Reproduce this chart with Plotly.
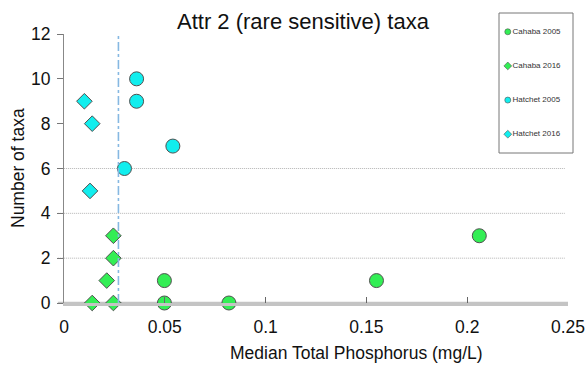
import plotly.graph_objects as go

# Median total phosphorus (mg/L) and number of Attr 2 taxa per site
cahaba_2005_tp = [0.0498, 0.0498, 0.0818, 0.155, 0.206]
cahaba_2005_n = [1, 0, 0, 1, 3]
cahaba_2016_tp = [0.0245, 0.0245, 0.0212, 0.014, 0.0245]
cahaba_2016_n = [3, 2, 1, 0, 0]
hatchet_2005_tp = [0.036, 0.036, 0.054, 0.030]
hatchet_2005_n = [10, 9, 7, 6]
hatchet_2016_tp = [0.0101, 0.014, 0.0129]
hatchet_2016_n = [9, 8, 5]

series_names = ["Cahaba 2005", "Cahaba 2016", "Hatchet 2005", "Hatchet 2016"]
threshold_tp = 0.027
grid_levels = [2, 4, 6]

GREEN = "#33ee55"
CYAN = "#11eeee"
EDGE = "#505050"
FONT = "Liberation Sans, Arial"

series = [
    (cahaba_2005_tp, cahaba_2005_n, "circle", GREEN, 14),
    (cahaba_2016_tp, cahaba_2016_n, "diamond", GREEN, 12),
    (hatchet_2005_tp, hatchet_2005_n, "circle", CYAN, 14),
    (hatchet_2016_tp, hatchet_2016_n, "diamond", CYAN, 12),
]

fig = go.Figure()
for name, (xs, ys, sym, col, sz) in zip(series_names, series):
    fig.add_trace(go.Scatter(
        x=xs, y=ys, mode="markers", name=name, showlegend=False,
        cliponaxis=False,
        marker=dict(symbol=sym, color=col, size=sz,
                    line=dict(color=EDGE, width=1)),
    ))

# Boxed key drawn on its own small axis pair
for i, (name, (xs, ys, sym, col, sz)) in enumerate(zip(series_names, series)):
    fig.add_trace(go.Scatter(
        x=[0], y=[len(series_names) - 1 - i], mode="markers+text",
        text=[name], textposition="middle right",
        textfont=dict(size=8, color="#333", family=FONT),
        marker=dict(symbol=sym, color=col, size=6,
                    line=dict(color=EDGE, width=0.6)),
        xaxis="x2", yaxis="y2", showlegend=False, cliponaxis=False,
        hoverinfo="skip",
    ))

# Reference threshold
fig.add_shape(type="line", xref="x", yref="y", x0=threshold_tp, x1=threshold_tp,
              y0=0, y1=12, line=dict(color="#86b8e2", width=1.6, dash="dashdot"))

# Dotted grid lines
for g in grid_levels:
    fig.add_shape(type="line", xref="paper", yref="y", x0=-0.012, x1=0.978,
                  y0=g, y1=g, line=dict(color="#b4b4b4", width=1, dash="1px,1px"),
                  layer="below")

# Horizontal base line running slightly past the left axis
fig.add_shape(type="line", xref="paper", yref="y", x0=-0.012, x1=504 / 512,
              y0=0, y1=0, line=dict(color="#c4c4c4", width=2.5), layer="below")

fig.update_layout(
    width=586, height=366,
    margin=dict(l=64, r=10, t=10, b=63, autoexpand=False),
    paper_bgcolor="white", plot_bgcolor="white",
    font=dict(family=FONT, color="#111", size=17.5),
    xaxis=dict(range=[0, 0.25], domain=[0, 504 / 512], automargin=False,
               tickvals=[0, 0.05, 0.1, 0.15, 0.2, 0.25],
               ticktext=["0", "0.05", "0.1", "0.15", "0.2", "0.25"],
               showgrid=False, zeroline=False, showline=True,
               linecolor="#c4c4c4", linewidth=2.5,
               ticks="inside", ticklen=6, tickcolor="#666", tickwidth=1,
               tickfont=dict(size=17.5), ticklabelstandoff=6),
    yaxis=dict(range=[0, 12], domain=[0, 269 / 293], automargin=False,
               tickvals=[0, 2, 4, 6, 8, 10, 12],
               showgrid=False, zeroline=False, showline=True,
               linecolor="#888", linewidth=1.2,
               ticks="outside", ticklen=6, tickcolor="#777",
               tickfont=dict(size=17.5), ticklabelstandoff=3),
    xaxis2=dict(domain=[435 / 512, 509 / 512], range=[-0.35, 2.6],
                anchor="y2", visible=False, fixedrange=True),
    yaxis2=dict(domain=[150 / 293, 290 / 293], range=[-0.55, 3.55],
                anchor="x2", visible=False, fixedrange=True),
    showlegend=False,
)

fig.add_shape(type="rect", xref="x2 domain", yref="y2 domain",
              x0=0, x1=1, y0=0, y1=1, line=dict(color="#777", width=1))

fig.add_annotation(text="Attr 2 (rare sensitive) taxa", xref="paper", yref="paper",
                   x=(303 - 64) / 512, y=(303 - 21) / 293, showarrow=False,
                   font=dict(size=22), xanchor="center", yanchor="middle")
fig.add_annotation(text="Median Total Phosphorus (mg/L)", xref="paper", yref="paper",
                   x=(356 - 64) / 512, y=(303 - 353) / 293, showarrow=False,
                   font=dict(size=17.5), xanchor="center", yanchor="middle")
fig.add_annotation(text="Number of taxa", xref="paper", yref="paper",
                   x=(18 - 64) / 512, y=(303 - 168) / 293, showarrow=False,
                   textangle=-90, font=dict(size=17.5),
                   xanchor="center", yanchor="middle")

fig.write_html("out.html")
